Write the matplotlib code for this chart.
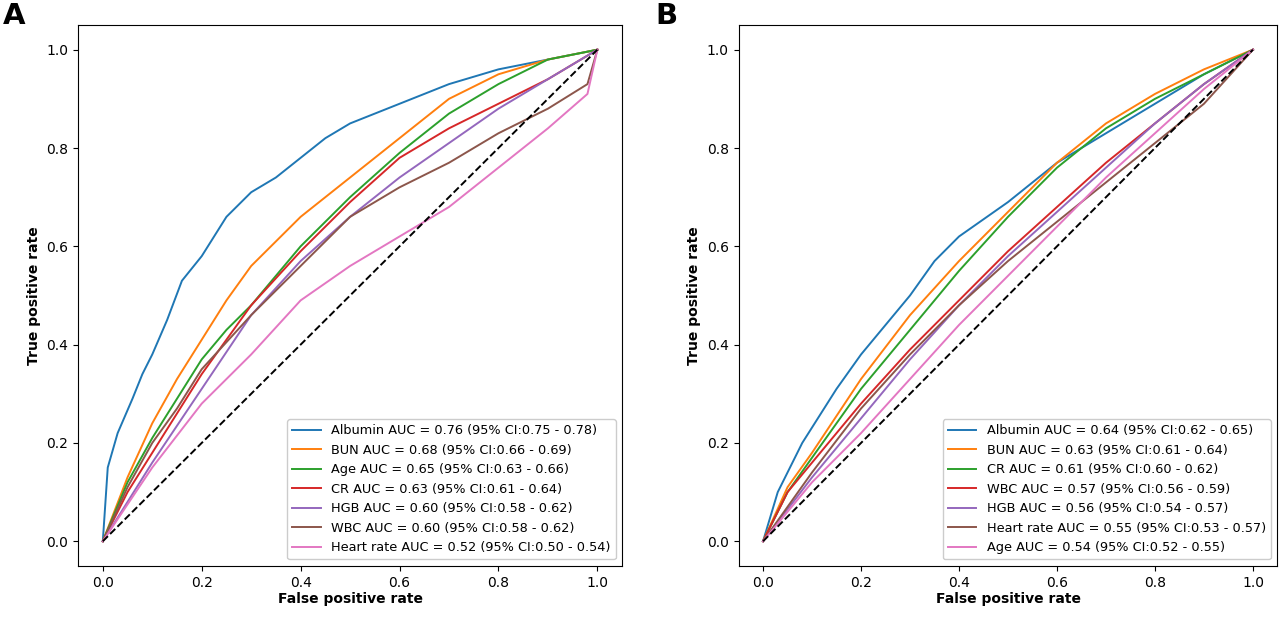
import matplotlib
matplotlib.use("Agg")
import matplotlib.pyplot as plt

colors = ["#1f77b4", "#ff7f0e", "#2ca02c", "#d62728", "#9467bd", "#8c564b", "#e377c2"]

# Panel A
labels_a = ["Albumin AUC = 0.76 (95% CI:0.75 - 0.78)", "BUN AUC = 0.68 (95% CI:0.66 - 0.69)",
            "Age AUC = 0.65 (95% CI:0.63 - 0.66)", "CR AUC = 0.63 (95% CI:0.61 - 0.64)",
            "HGB AUC = 0.60 (95% CI:0.58 - 0.62)", "WBC AUC = 0.60 (95% CI:0.58 - 0.62)",
            "Heart rate AUC = 0.52 (95% CI:0.50 - 0.54)"]
alb_a_x = [0, 0.01, 0.03, 0.06, 0.08, 0.1, 0.13, 0.16, 0.2, 0.25, 0.3, 0.35, 0.4, 0.45, 0.5, 0.6, 0.7, 0.8, 0.9, 1]
alb_a_y = [0, 0.15, 0.22, 0.29, 0.34, 0.38, 0.45, 0.53, 0.58, 0.66, 0.71, 0.74, 0.78, 0.82, 0.85, 0.89, 0.93, 0.96, 0.98, 1]
bun_a_x = [0, 0.05, 0.1, 0.15, 0.2, 0.25, 0.3, 0.35, 0.4, 0.45, 0.5, 0.6, 0.7, 0.8, 0.9, 1]
bun_a_y = [0, 0.13, 0.24, 0.33, 0.41, 0.49, 0.56, 0.61, 0.66, 0.70, 0.74, 0.82, 0.90, 0.95, 0.98, 1]
age_a_x = [0, 0.05, 0.1, 0.15, 0.2, 0.25, 0.3, 0.4, 0.5, 0.6, 0.7, 0.8, 0.9, 1]
age_a_y = [0, 0.12, 0.21, 0.29, 0.37, 0.43, 0.48, 0.60, 0.70, 0.79, 0.87, 0.93, 0.98, 1]
cr_a_x = [0, 0.05, 0.1, 0.15, 0.2, 0.25, 0.3, 0.4, 0.5, 0.6, 0.7, 0.8, 0.9, 1]
cr_a_y = [0, 0.10, 0.18, 0.26, 0.34, 0.41, 0.48, 0.59, 0.69, 0.78, 0.84, 0.89, 0.94, 1]
hgb_a_x = [0, 0.1, 0.2, 0.3, 0.4, 0.5, 0.6, 0.7, 0.8, 0.9, 1]
hgb_a_y = [0, 0.16, 0.31, 0.46, 0.57, 0.66, 0.74, 0.81, 0.88, 0.94, 1]
wbc_a_x = [0, 0.05, 0.1, 0.15, 0.2, 0.3, 0.4, 0.5, 0.6, 0.7, 0.8, 0.9, 0.98, 1]
wbc_a_y = [0, 0.11, 0.20, 0.27, 0.35, 0.46, 0.56, 0.66, 0.72, 0.77, 0.83, 0.88, 0.93, 1]
hr_a_x = [0, 0.1, 0.2, 0.3, 0.4, 0.5, 0.6, 0.7, 0.8, 0.9, 0.98, 1]
hr_a_y = [0, 0.15, 0.28, 0.38, 0.49, 0.56, 0.62, 0.68, 0.76, 0.84, 0.91, 1]

# Panel B
labels_b = ["Albumin AUC = 0.64 (95% CI:0.62 - 0.65)", "BUN AUC = 0.63 (95% CI:0.61 - 0.64)",
            "CR AUC = 0.61 (95% CI:0.60 - 0.62)", "WBC AUC = 0.57 (95% CI:0.56 - 0.59)",
            "HGB AUC = 0.56 (95% CI:0.54 - 0.57)", "Heart rate AUC = 0.55 (95% CI:0.53 - 0.57)",
            "Age AUC = 0.54 (95% CI:0.52 - 0.55)"]
alb_b_x = [0, 0.03, 0.08, 0.15, 0.2, 0.3, 0.35, 0.4, 0.5, 0.6, 0.7, 0.8, 0.9, 1]
alb_b_y = [0, 0.10, 0.20, 0.31, 0.38, 0.50, 0.57, 0.62, 0.69, 0.77, 0.83, 0.89, 0.95, 1]
bun_b_x = [0, 0.05, 0.1, 0.2, 0.3, 0.4, 0.5, 0.6, 0.7, 0.8, 0.9, 1]
bun_b_y = [0, 0.11, 0.18, 0.33, 0.46, 0.57, 0.67, 0.77, 0.85, 0.91, 0.96, 1]
cr_b_x = [0, 0.05, 0.1, 0.2, 0.3, 0.4, 0.5, 0.6, 0.7, 0.8, 0.9, 1]
cr_b_y = [0, 0.10, 0.17, 0.31, 0.43, 0.55, 0.66, 0.76, 0.84, 0.90, 0.95, 1]
wbc_b_x = [0, 0.05, 0.1, 0.2, 0.3, 0.4, 0.5, 0.6, 0.7, 0.8, 0.9, 1]
wbc_b_y = [0, 0.10, 0.16, 0.28, 0.39, 0.49, 0.59, 0.68, 0.77, 0.85, 0.93, 1]
hgb_b_x = [0, 0.1, 0.2, 0.3, 0.4, 0.5, 0.6, 0.7, 0.8, 0.9, 1]
hgb_b_y = [0, 0.13, 0.25, 0.37, 0.48, 0.58, 0.67, 0.76, 0.85, 0.93, 1]
hr_b_x = [0, 0.1, 0.2, 0.3, 0.4, 0.5, 0.6, 0.7, 0.8, 0.9, 1]
hr_b_y = [0, 0.14, 0.27, 0.38, 0.48, 0.57, 0.65, 0.73, 0.81, 0.89, 1]
age_b_x = [0, 0.1, 0.2, 0.3, 0.4, 0.5, 0.6, 0.7, 0.8, 0.9, 1]
age_b_y = [0, 0.12, 0.22, 0.33, 0.44, 0.54, 0.64, 0.74, 0.83, 0.92, 1]

series_a = [(alb_a_x, alb_a_y), (bun_a_x, bun_a_y), (age_a_x, age_a_y), (cr_a_x, cr_a_y),
            (hgb_a_x, hgb_a_y), (wbc_a_x, wbc_a_y), (hr_a_x, hr_a_y)]
series_b = [(alb_b_x, alb_b_y), (bun_b_x, bun_b_y), (cr_b_x, cr_b_y), (wbc_b_x, wbc_b_y),
            (hgb_b_x, hgb_b_y), (hr_b_x, hr_b_y), (age_b_x, age_b_y)]

fig = plt.figure(figsize=(12.8, 6.28), dpi=100)
axA = fig.add_axes([0.061, 0.099, 0.425, 0.861])
axB = fig.add_axes([0.577, 0.099, 0.421, 0.861])

for ax, series, labels, tag, tx in [(axA, series_a, labels_a, "A", 0.002), (axB, series_b, labels_b, "B", 0.512)]:
    for (x, y), lab, c in zip(series, labels, colors):
        ax.plot(x, y, color=c, lw=1.4, label=lab)
    ax.plot([0, 1], [0, 1], "k--", lw=1.4)
    ax.set_xlim(-0.05, 1.05)
    ax.set_ylim(-0.05, 1.05)
    ax.set_xticks([0, 0.2, 0.4, 0.6, 0.8, 1.0])
    ax.set_yticks([0, 0.2, 0.4, 0.6, 0.8, 1.0])
    ax.tick_params(labelsize=10)
    ax.set_xlabel("False positive rate", fontweight="bold", fontsize=10, labelpad=2)
    ax.set_ylabel("True positive rate", fontweight="bold", fontsize=10)
    ax.legend(loc="lower right", fontsize=9.3, handlelength=2.2, framealpha=1)
    fig.text(tx, 0.975, tag, fontsize=21, fontweight="bold", va="center")

fig.savefig("out.png", dpi=100)
